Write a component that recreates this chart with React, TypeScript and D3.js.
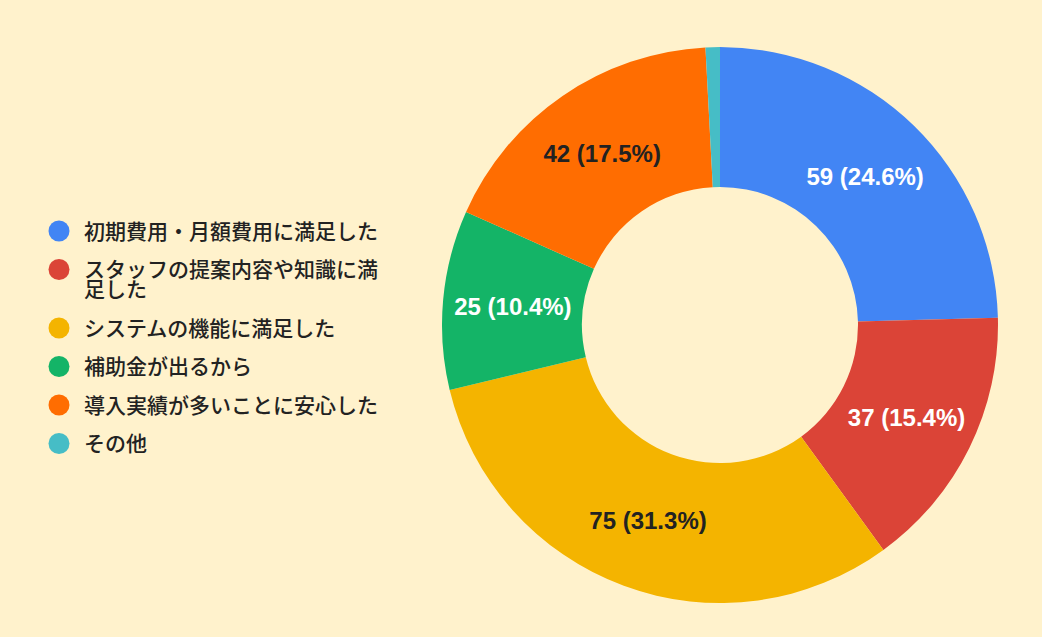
import * as d3 from "d3";

const labels = [
  "初期費用・月額費用に満足した",
  "スタッフの提案内容や知識に満足した",
  "システムの機能に満足した",
  "補助金が出るから",
  "導入実績が多いことに安心した",
  "その他",
];
const legendLines = [
  ["初期費用・月額費用に満足した"],
  ["スタッフの提案内容や知識に満", "足した"],
  ["システムの機能に満足した"],
  ["補助金が出るから"],
  ["導入実績が多いことに安心した"],
  ["その他"],
];
const values = [59, 37, 75, 25, 42, 2];
const colors = ["#4285F4", "#DB4437", "#F4B400", "#14B467", "#FF6D01", "#46BDC6"];
const labelColors = ["#fff", "#fff", "#222", "#fff", "#222", "#fff"];

const width = 1042;
const height = 637;
const cx = 720;
const cy = 325;
const outerR = 278;
const innerR = 138;
const cjkFont = "'Noto Sans CJK JP', 'Noto Sans', sans-serif";
const numFont = "'Liberation Sans', Arial, sans-serif";

export default function App() {
  const total = d3.sum(values);
  const pie = d3.pie<number>().sort(null).value(d => d);
  const arcs = pie(values);
  const arc = d3.arc<d3.PieArcDatum<number>>().innerRadius(innerR).outerRadius(outerR);

  // legend row positions (wrapped item takes extra line)
  let y = 231;
  const rows = legendLines.map(lines => {
    const r = {y, lines};
    y += 38.5 + (lines.length - 1) * 20;
    return r;
  });

  return (
    <svg width={width} height={height} style={{position: "absolute", left: 0, top: 0}}>
      <rect width={width} height={height} fill="#FFF2CC" />
      <g transform={`translate(${cx},${cy})`}>
        {arcs.map((a, i) => (
          <path key={i} d={arc(a) ?? ""} fill={colors[i]} stroke="none" />
        ))}
        {arcs.map((a, i) => {
          if (values[i] / total < 0.05) return null;
          const [x, yy] = arc.centroid(a);
          return (
            <text key={i} x={x} y={yy} dy="0.36em" textAnchor="middle" fill={labelColors[i]}
                  fontFamily={numFont} fontWeight="bold" fontSize={24}>
              {`${values[i]} (${(values[i] / total * 100).toFixed(1)}%)`}
            </text>
          );
        })}
      </g>
      <g>
        {rows.map((r, i) => (
          <g key={labels[i]}>
            <circle cx={59} cy={r.y} r={10.5} fill={colors[i]} />
            {r.lines.map((l, j) => (
              <text key={j} x={84} y={r.y + j * 20} dy="0.36em" fill="#222"
                    fontFamily={cjkFont} fontWeight="500" fontSize={21}>{l}</text>
            ))}
          </g>
        ))}
      </g>
    </svg>
  );
}
